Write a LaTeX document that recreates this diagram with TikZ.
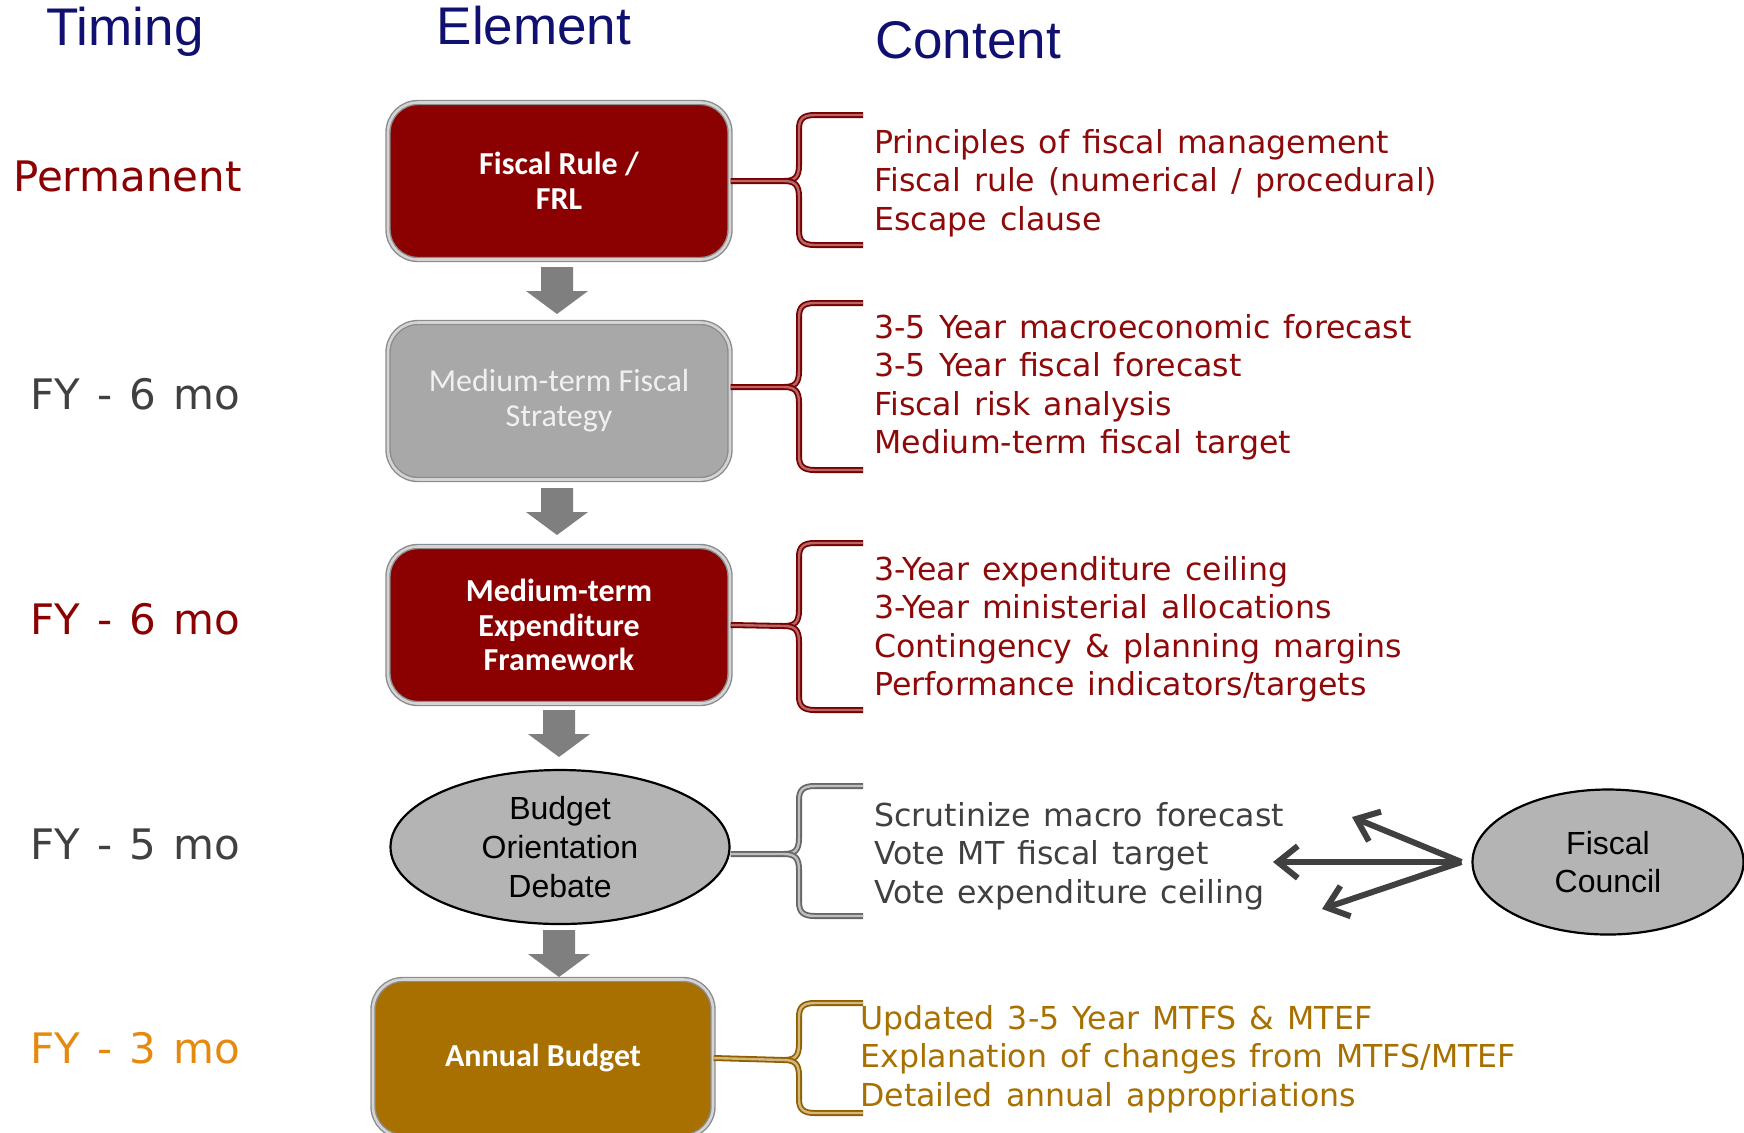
\documentclass[tikz,border=0pt]{standalone}
\usepackage{fontspec}
\setmainfont{DejaVu Sans}
\newfontfamily\verd[WordSpace=1.15]{DejaVu Sans}
\newfontfamily\verdt[WordSpace=1.3]{DejaVu Sans}
\newfontfamily\ari{Liberation Sans}
\newfontfamily\cali{Carlito}
\usetikzlibrary{shapes.geometric,arrows.meta,calc}
\definecolor{dred}{HTML}{8B0000}
\definecolor{tred}{HTML}{8E0A0A}
\definecolor{navy}{HTML}{101070}
\definecolor{tgray}{HTML}{404040}
\definecolor{torange}{HTML}{E58A0F}
\definecolor{boxgray}{HTML}{A8A8A8}
\definecolor{ellgray}{HTML}{B4B4B4}
\definecolor{goldfill}{HTML}{A87000}
\definecolor{goldtext}{HTML}{A87000}
\definecolor{arrgray}{HTML}{7F7F7F}
\definecolor{bordout}{HTML}{8C8C8C}
\definecolor{bordin}{HTML}{D4D4D4}
\newcommand\mybrace[5]{%
  \draw[#1] (#2) -- (784,#3) .. controls (795,#3) and (799,#3-4) .. (799,#3-16)
    -- (799,#4+14) .. controls (799,#4+4) and (803,#4) .. (815,#4) -- (863,#4);
  \draw[#1] (784,#3) .. controls (795,#3) and (799,#3+4) .. (799,#3+16)
    -- (799,#5-14) .. controls (799,#5-4) and (803,#5) .. (815,#5) -- (863,#5);
}
\begin{document}
\begin{tikzpicture}[x=0.5pt,y=-0.5pt,
  hdr/.style={font=\ari\fontsize{26.5}{30}\selectfont, text=navy, inner sep=0pt, anchor=base},
  tim/.style={font=\verdt\fontsize{21}{25}\selectfont, inner sep=0pt, anchor=base east},
  cline/.style={font=\verd\fontsize{15.8}{19}\selectfont, inner sep=0pt, anchor=base west},
  rbox/.style={rectangle, rounded corners=15pt, minimum width=171pt, minimum height=78.5pt,
    draw=bordout, double=bordin, double distance=1.3pt, line width=0.7pt,
    align=center, inner sep=2pt, text=white},
  bfont/.style={font=\cali\bfseries\fontsize{16}{17.3}\selectfont},
  ell/.style={ellipse, fill=ellgray, draw=black, line width=1.1pt, inner sep=0pt,
    align=center, font=\ari\fontsize{16}{19.3}\selectfont, text=black},
  rbrace/.style={draw=dred!85!black, double=dred!60!white, double distance=1.2pt, line width=0.9pt},
  gbrace/.style={draw=black!60, double=black!25, double distance=1.2pt, line width=0.9pt},
  ybrace/.style={draw=goldfill!85!black, double=goldfill!50!white, double distance=1.2pt, line width=0.9pt},
  fcarrow/.style={draw=tgray, line width=3pt, -{Straight Barb[length=10pt,width=16pt]}},
  darr/.pic={\fill[arrgray] (-16,0) -- (16,0) -- (16,24) -- (31,24) -- (0,47) -- (-31,24) -- (-16,24) -- cycle;}
]
\useasboundingbox (0,0) rectangle (1744,1132);

% headers
\node[hdr] (hT) at (125,45) {Timing};
\node[hdr] (hE) at (534,44) {Element};
\node[hdr] (hC) at (968,58) {Content};

% timing
\node[tim, text=dred] (t1) at (242,191) {Permanent};
\node[tim, text=tgray] (t2) at (241,409) {FY - 6 mo};
\node[tim, text=dred] (t3) at (241,634) {FY - 6 mo};
\node[tim, text=tgray] (t4) at (241,859) {FY - 5 mo};
\node[tim, text=torange] (t5) at (241,1063) {FY - 3 mo};

% elements
\node[rbox, bfont, fill=dred] (b1) at (559,181) {Fiscal Rule /\\FRL};
\node[rbox, fill=boxgray, text=white!94!black, font=\cali\fontsize{16}{17.5}\selectfont] (b2) at (559,401) {Medium-term Fiscal\\Strategy};
\node[rbox, bfont, fill=dred] (b3) at (559,625) {Medium-term\\Expenditure\\Framework};
\node[ell, minimum width=169.5pt, minimum height=77pt] (b4) at (560,847) {Budget\\Orientation\\Debate};
\node[rbox, bfont, fill=goldfill, minimum width=170pt] (b5) at (543,1058) {Annual Budget};
\node[ell, minimum width=135.5pt, minimum height=72.5pt] (fc) at (1608,862) {Fiscal\\Council};

% block arrows
\pic at (557,267) {darr};
\pic at (557,488) {darr};
\pic at (559,710) {darr};
\pic at (559,930) {darr};

% braces
\coordinate (s1) at (b1.east);
\coordinate (s2) at ($(b2.east)+(0,-14)$);
\coordinate (s3) at (b3.east);
\coordinate (s4) at ($(b4.east)+(0,7)$);
\coordinate (s5) at (b5.east);
\mybrace{rbrace}{s1}{181}{115}{245}
\mybrace{rbrace}{s2}{387}{303}{470}
\mybrace{rbrace}{s3}{626}{543}{710}
\mybrace{gbrace}{s4}{854}{786}{916}
\mybrace{ybrace}{s5}{1060}{1003}{1113}

% content
\node[cline, text=tred] (c11) at (874,153) {Principles of fiscal management};
\node[cline, text=tred] (c12) at (874,191.5) {Fiscal rule (numerical / procedural)};
\node[cline, text=tred] (c13) at (874,230) {Escape clause};

\node[cline, text=tred] (c21) at (874,338) {3-5 Year macroeconomic forecast};
\node[cline, text=tred] (c22) at (874,376.5) {3-5 Year fiscal forecast};
\node[cline, text=tred] (c23) at (874,415) {Fiscal risk analysis};
\node[cline, text=tred] (c24) at (874,453.5) {Medium-term fiscal target};

\node[cline, text=tred] (c31) at (874,580) {3-Year expenditure ceiling};
\node[cline, text=tred] (c32) at (874,618.5) {3-Year ministerial allocations};
\node[cline, text=tred] (c33) at (874,657) {Contingency \& planning margins};
\node[cline, text=tred] (c34) at (874,695.5) {Performance indicators/targets};

\node[cline, text=tgray] (c41) at (874,826) {Scrutinize macro forecast};
\node[cline, text=tgray] (c42) at (874,864.5) {Vote MT fiscal target};
\node[cline, text=tgray] (c43) at (874,903) {Vote expenditure ceiling};

\node[cline, text=goldtext] (c51) at (860,1029) {Updated 3-5 Year MTFS \& MTEF};
\node[cline, text=goldtext] (c52) at (860,1067.5) {Explanation of changes from MTFS/MTEF};
\node[cline, text=goldtext] (c53) at (860,1106) {Detailed annual appropriations};

% fiscal council arrows
\coordinate (a1) at (1352,817);
\coordinate (a2) at (1273,862);
\coordinate (a3) at (1322,909);
\coordinate (fo) at ($(fc.west)+(-10,0)$);
\draw[fcarrow] (fo) -- (a1);
\draw[fcarrow] (fo) -- (a2);
\draw[fcarrow] (fo) -- (a3);
\end{tikzpicture}
\end{document}
